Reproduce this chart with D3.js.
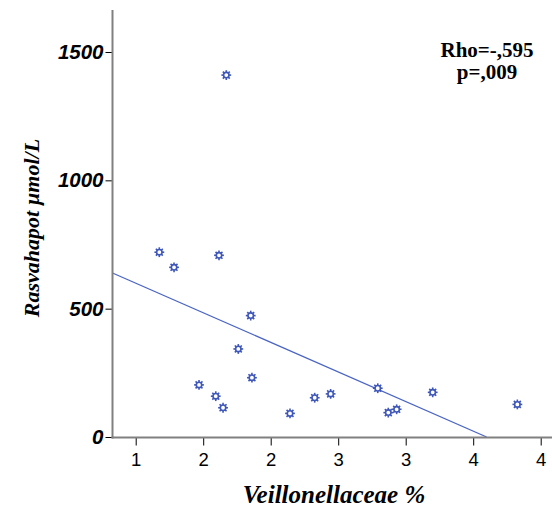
<!DOCTYPE html>
<html>
<head>
<meta charset="utf-8">
<script src="https://cdn.jsdelivr.net/npm/d3@7"></script>
<style>
  body { margin: 0; background: #fff; }
  svg { display: block; }
</style>
</head>
<body>
<div id="chart"></div>
<script>
// Veillonellaceae % vs Rasvahapot µmol/L
const veillonellaceae = [1.175, 1.284, 1.671, 1.617, 1.852, 1.760, 1.861, 1.469, 1.593,
    1.647, 2.143, 2.326, 2.444, 2.793, 2.871, 2.933, 3.200, 3.827];
const rasvahapot = [720, 661, 1410, 708, 473, 343, 231, 203, 159,
    114, 92, 153, 168, 190, 95, 108, 174, 127];

const xTicks = [1, 1.5, 2, 2.5, 3, 3.5, 4];
const yTicks = [0, 500, 1000, 1500];

// fit line
const fitIntercept = 830;
const fitSlope = -230.6;

const statLines = ["Rho=-,595", "p=,009"];

const width = 552, height = 509;
const blue = "#3f57b8";

const svg = d3.select("#chart").append("svg")
    .attr("width", width)
    .attr("height", height);

const x = d3.scaleLinear().domain([1, 4]).range([135.7, 540.7]);
const y = d3.scaleLinear().domain([0, 1500]).range([437, 52]);

const xMin = x.invert(112.5), xMax = x.invert(552);

// fit line, clipped at y = 0
const xEnd = Math.min(xMax, -fitIntercept / fitSlope);
svg.append("line")
    .attr("x1", x(xMin))
    .attr("y1", y(fitIntercept + fitSlope * xMin))
    .attr("x2", x(xEnd))
    .attr("y2", y(Math.max(0, fitIntercept + fitSlope * xEnd)))
    .attr("stroke", "#4a64c4")
    .attr("stroke-width", 1.3);

// markers
const pts = veillonellaceae.map((v, i) => ({ x: v, y: rasvahapot[i] }));
const rays = d3.range(8).map(i => i * Math.PI / 4);
const mark = svg.append("g").selectAll("g")
    .data(pts)
    .join("g")
    .attr("transform", d => `translate(${x(d.x)},${y(d.y)})`);
mark.selectAll("line")
    .data(rays)
    .join("line")
    .attr("x1", a => Math.cos(a) * 2.6)
    .attr("y1", a => Math.sin(a) * 2.6)
    .attr("x2", a => Math.cos(a) * 4.9)
    .attr("y2", a => Math.sin(a) * 4.9)
    .attr("stroke", blue)
    .attr("stroke-width", 1.6);
mark.append("circle")
    .attr("r", 2.7)
    .attr("fill", "#fff")
    .attr("stroke", blue)
    .attr("stroke-width", 1.6);

// axes
const yAxis = svg.append("g")
    .attr("transform", "translate(112.5,0)")
    .call(d3.axisLeft(y).tickValues(yTicks).tickSize(7).tickPadding(2).tickFormat(d3.format("d")));
yAxis.select(".domain").remove();
yAxis.selectAll("text")
    .style("font-family", "'Liberation Sans', Arial, sans-serif")
    .style("font-size", "20.5px")
    .style("font-weight", "bold")
    .style("font-style", "italic")
    .attr("fill", "#000");

const xAxis = svg.append("g")
    .attr("transform", "translate(0,437.5)")
    .call(d3.axisBottom(x).tickValues(xTicks).tickSize(8).tickPadding(7).tickFormat(d3.format(".0f")));
xAxis.select(".domain").remove();
xAxis.selectAll("text")
    .style("font-family", "'Liberation Sans', Arial, sans-serif")
    .style("font-size", "18.5px")
    .attr("fill", "#000");

svg.append("line")
    .attr("x1", 112.5).attr("x2", 112.5)
    .attr("y1", 10).attr("y2", 438.5)
    .attr("stroke", "#808080").attr("stroke-width", 2);
svg.append("line")
    .attr("x1", 111.5).attr("x2", 552)
    .attr("y1", 437.5).attr("y2", 437.5)
    .attr("stroke", "#808080").attr("stroke-width", 2);

// titles
svg.append("text")
    .attr("transform", "translate(39,228) rotate(-90)")
    .attr("text-anchor", "middle")
    .style("font-family", "'Liberation Serif', 'Times New Roman', serif")
    .style("font-size", "22px")
    .style("font-weight", "bold")
    .style("font-style", "italic")
    .text("Rasvahapot µmol/L");

svg.append("text")
    .attr("x", 334)
    .attr("y", 503)
    .attr("text-anchor", "middle")
    .style("font-family", "'Liberation Serif', 'Times New Roman', serif")
    .style("font-size", "25px")
    .style("font-weight", "bold")
    .style("font-style", "italic")
    .text("Veillonellaceae %");

svg.append("g").selectAll("text")
    .data(statLines)
    .join("text")
    .attr("x", 487)
    .attr("y", (d, i) => 57 + i * 22)
    .attr("text-anchor", "middle")
    .style("font-family", "'Liberation Serif', 'Times New Roman', serif")
    .style("font-size", "21px")
    .style("font-weight", "bold")
    .text(d => d);
</script>
</body>
</html>
